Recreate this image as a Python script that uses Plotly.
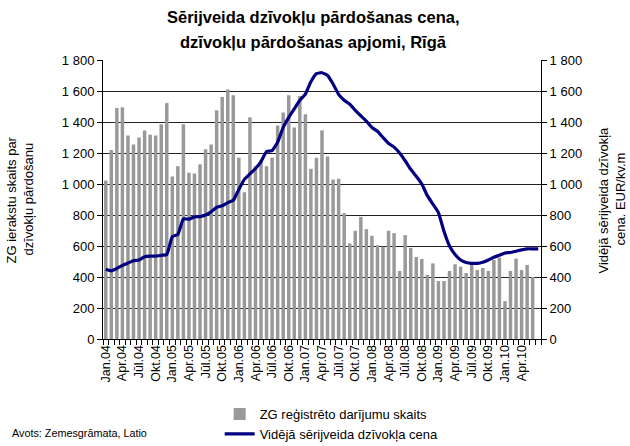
import plotly.graph_objects as go

months = [
    "Jan.04", "Feb.04", "Mar.04", "Apr.04", "Mai.04", "Jūn.04", "Jūl.04", "Aug.04", "Sep.04", "Okt.04", "Nov.04", "Dec.04",
    "Jan.05", "Feb.05", "Mar.05", "Apr.05", "Mai.05", "Jūn.05", "Jūl.05", "Aug.05", "Sep.05", "Okt.05", "Nov.05", "Dec.05",
    "Jan.06", "Feb.06", "Mar.06", "Apr.06", "Mai.06", "Jūn.06", "Jūl.06", "Aug.06", "Sep.06", "Okt.06", "Nov.06", "Dec.06",
    "Jan.07", "Feb.07", "Mar.07", "Apr.07", "Mai.07", "Jūn.07", "Jūl.07", "Aug.07", "Sep.07", "Okt.07", "Nov.07", "Dec.07",
    "Jan.08", "Feb.08", "Mar.08", "Apr.08", "Mai.08", "Jūn.08", "Jūl.08", "Aug.08", "Sep.08", "Okt.08", "Nov.08", "Dec.08",
    "Jan.09", "Feb.09", "Mar.09", "Apr.09", "Mai.09", "Jūn.09", "Jūl.09", "Aug.09", "Sep.09", "Okt.09", "Nov.09", "Dec.09",
    "Jan.10", "Feb.10", "Mar.10", "Apr.10", "Mai.10", "Jūn.10", "Jūl.10",
]

deals = [
    1022, 1220, 1490, 1495, 1313, 1255, 1300, 1345, 1318, 1313, 1385, 1522,
    1048, 1115, 1385, 1073, 1068, 1127, 1224, 1255, 1476, 1562, 1610, 1573,
    1170, 946, 1430, 1114, 1153, 1114, 1170, 1378, 1461, 1573, 1365, 1567,
    1450, 1098, 1170, 1346, 1178, 1029, 1034, 812, 617, 698, 788, 709,
    666, 605, 596, 698, 683, 439, 670, 588, 529, 516, 413, 488,
    374, 374, 439, 482, 467, 426, 482, 445, 458, 439, 510, 525,
    244, 439, 519, 445, 478, 400,
]

price = [
    450, 440, 455, 475, 490, 505, 510, 530, 535, 535, 540, 545,
    660, 675, 775, 773, 788, 790, 800, 820, 850, 860, 880, 895,
    965, 1030, 1065, 1100, 1145, 1210, 1215, 1270, 1365, 1430, 1485, 1540,
    1580, 1660, 1712, 1718, 1700, 1645, 1578, 1540, 1515, 1475, 1440, 1405,
    1365, 1340, 1300, 1262, 1238, 1200, 1150, 1095, 1050, 1000, 925, 870,
    815, 695, 600, 545, 510, 493, 488, 488, 495, 510, 528, 540,
    555, 558, 566, 575, 582, 582, 582,
]

x_tick_labels = [
    "Jan.04", "Apr.04", "Jūl.04", "Okt.04", "Jan.05", "Apr.05", "Jūl.05", "Okt.05",
    "Jan.06", "Apr.06", "Jūl.06", "Okt.06", "Jan.07", "Apr.07", "Jūl.07", "Okt.07",
    "Jan.08", "Apr.08", "Jūl.08", "Okt.08", "Jan.09", "Apr.09", "Jūl.09", "Okt.09",
    "Jan.10", "Apr.10",
]

y_tickvals = [0, 200, 400, 600, 800, 1000, 1200, 1400, 1600, 1800]
y_ticktext = ["0", "200", "400", "600", "800", "1 000", "1 200", "1 400", "1 600", "1 800"]

title_lines = ["Sērijveida dzīvokļu pārdošanas cena,", "dzīvokļu pārdošanas apjomi, Rīgā"]
left_title_lines = ["ZG ierakstu skaits par", "dzīvokļu pārdošanu"]
right_title_lines = ["Vidējā sērijveida dzīvokļa", "cena. EUR/kv.m"]
source_text = "Avots: Zemesgrāmata, Latio"

FONT = "Liberation Sans, Arial, sans-serif"

idx = list(range(len(months)))
x_tickvals = [months.index(lbl) for lbl in x_tick_labels]

fig = go.Figure()
fig.add_trace(go.Bar(
    x=idx[:len(deals)], y=deals, name="ZG reģistrēto darījumu skaits",
    marker=dict(color="#999999", line=dict(width=0)), yaxis="y",
))
fig.add_trace(go.Scatter(
    x=idx, y=price, name="Vidējā sērijveida dzīvokļa cena", mode="lines",
    line=dict(color="#000080", width=3.2, shape="spline", smoothing=0.4), yaxis="y2",
))

axis_common = dict(
    range=[0, 1800], tickvals=y_tickvals, ticktext=y_ticktext,
    ticks="outside", ticklen=5, tickcolor="black",
    showline=True, linecolor="black", linewidth=1, zeroline=False,
    tickfont=dict(size=13, color="black"),
)

def rot_note(text, x):
    return dict(text=text, xref="paper", yref="paper", x=x, y=0.5,
                xanchor="center", yanchor="middle", textangle=-90,
                showarrow=False, font=dict(size=13))

annotations = [
    dict(text="<b>" + title_lines[0] + "</b>", xref="paper", yref="paper",
         x=0.4795, y=1.154, xanchor="center", yanchor="middle",
         showarrow=False, font=dict(size=16.5)),
    dict(text="<b>" + title_lines[1] + "</b>", xref="paper", yref="paper",
         x=0.4795, y=1.0645, xanchor="center", yanchor="middle",
         showarrow=False, font=dict(size=16.5)),
    rot_note(left_title_lines[0], -0.2078),
    rot_note(left_title_lines[1], -0.1712),
    rot_note(right_title_lines[0], 1.1438),
    rot_note(right_title_lines[1], 1.1804),
    dict(text=source_text, xref="paper", yref="paper",
         x=-0.212, y=-0.337, xanchor="left", yanchor="middle",
         showarrow=False, font=dict(size=10.8)),
]

fig.update_layout(
    width=630, height=446, autosize=False,
    margin=dict(l=103, r=89, t=60, b=107, pad=0, autoexpand=False),
    paper_bgcolor="white", plot_bgcolor="white",
    font=dict(family=FONT, color="black", size=13),
    bargap=0.37,
    showlegend=True,
    legend=dict(
        x=0.2664, xanchor="left", y=-0.215, yanchor="top",
        orientation="v", font=dict(size=13), bgcolor="rgba(0,0,0,0)",
        traceorder="normal", tracegroupgap=0,
    ),
    xaxis=dict(
        range=[-0.5, len(months) - 0.5],
        tickmode="array", tickvals=x_tickvals, ticktext=x_tick_labels,
        tickangle=-90, ticks="", showgrid=False, zeroline=False,
        showline=True, linecolor="black", linewidth=1, automargin=False,
        tickfont=dict(size=12.5, color="black"),
        minor=dict(ticks="outside", tickmode="linear", tick0=-0.5, dtick=1,
                   ticklen=5, tickcolor="black", showgrid=False),
    ),
    yaxis=dict(**axis_common, showgrid=True, gridcolor="#222222", gridwidth=1, automargin=False),
    yaxis2=dict(**axis_common, overlaying="y", side="right", showgrid=False, automargin=False),
    annotations=annotations,
)

fig.write_html(
    "out.html",
    config={"displayModeBar": False},
    post_script="document.body.style.margin='0px'; document.body.style.padding='0px';",
)
